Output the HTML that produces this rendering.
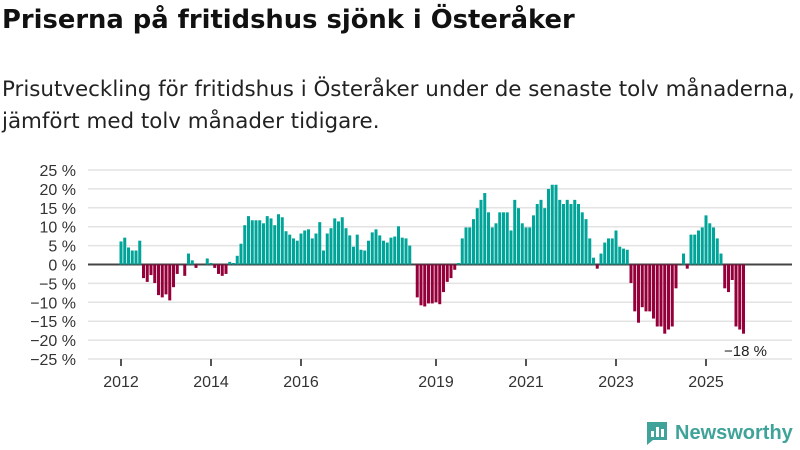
<!DOCTYPE html>
<html><head><meta charset="utf-8"><style>
body{margin:0;width:800px;height:450px;background:#fff;font-family:"Liberation Sans",sans-serif;overflow:hidden;position:relative}
h1{position:absolute;left:2px;top:5px;margin:0;font-family:"DejaVu Sans",sans-serif;font-size:25.8px;font-weight:bold;color:#111;white-space:nowrap}
.sub{position:absolute;left:2px;top:74px;margin:0;font-family:"DejaVu Sans",sans-serif;font-size:21.4px;line-height:32px;color:#222;white-space:nowrap}
svg{position:absolute;left:0;top:0}
</style></head><body>
<h1>Priserna på fritidshus sjönk i Österåker</h1>
<p class="sub">Prisutveckling för fritidshus i Österåker under de senaste tolv månaderna,<br>jämfört med tolv månader tidigare.</p>
<svg id="chart" width="800" height="450"></svg>
<script>
const values=[6.1,7.1,4.5,3.7,3.7,6.3,-3.6,-4.6,-2.8,-4.9,-8.1,-8.7,-7.9,-9.5,-6.0,-2.5,null,-3.0,2.9,1.1,-0.9,null,null,1.6,0.4,-0.9,-2.5,-3.0,-2.5,0.7,0.4,2.3,5.5,10.4,12.8,11.7,11.7,11.7,10.9,12.8,12.2,10.4,13.3,12.5,8.8,7.9,6.9,6.3,8.2,9.0,9.3,6.9,8.2,11.2,3.7,8.2,9.6,12.2,11.4,12.5,9.6,7.7,4.7,7.9,3.9,3.7,6.3,8.5,9.3,7.7,6.3,5.8,7.1,7.4,10.1,7.1,6.9,5.0,null,-8.7,-10.8,-11.1,-10.3,-10.3,-10.0,-10.5,-7.3,-4.6,-3.6,-1.4,0.4,6.9,9.8,9.8,12.0,14.9,17.1,18.9,13.8,9.8,10.9,13.8,13.8,13.8,9.0,17.1,14.9,10.9,9.8,9.8,13.0,16.0,17.1,14.9,20.0,21.1,21.1,17.1,16.0,17.1,16.0,17.1,16.0,13.8,12.0,6.9,1.8,-1.1,2.9,5.8,6.9,6.9,9.0,4.7,4.2,3.9,-4.9,-12.4,-15.4,-11.3,-12.4,-12.4,-14.3,-16.4,-16.4,-18.3,-17.2,-16.4,-6.3,null,2.9,-1.1,7.9,7.9,9.0,9.8,13.0,10.9,9.8,6.9,2.9,-6.3,-7.3,-4.1,-16.4,-17.2,-18.3];
const yTicks=[25,20,15,10,5,0,-5,-10,-15,-20,-25];
const xYears=[2012,2014,2016,2019,2021,2023,2025];
const lastLabel="−18 %";
const NS="http://www.w3.org/2000/svg";
const svg=document.getElementById('chart');
const y=v=>264.5-v*3.78;
const x=i=>121+i*3.75;
const xYear=yr=>x((yr-2012)*12);
function el(t,a){const e=document.createElementNS(NS,t);for(const k in a)e.setAttribute(k,a[k]);svg.appendChild(e);return e;}
yTicks.forEach(t=>{
 const g=el('line',{x1:88,x2:792,y1:y(t),y2:y(t),stroke:t===0?'#444':'#e3e3e3','stroke-width':t===0?2:1.5});
 
 
 const l=el('text',{x:76,y:y(t)+6,'text-anchor':'end','font-size':16,fill:'#333','font-family':'Liberation Sans, sans-serif'});
 l.textContent=(t<0?'−'+(-t):t)+' %';
 
 
});
values.forEach((v,i)=>{
 if(v===null)return;
 const r=el('rect',{x:x(i)-1.5,width:3,y:v>=0?y(v):y(0),height:Math.abs(y(v)-y(0)),fill:v>=0?'#00a498':'#95003a'});
 
 
});
xYears.forEach(yr=>{
 const t=el('line',{x1:xYear(yr),x2:xYear(yr),y1:359,y2:366,stroke:'#555','stroke-width':2});
 
 
 const l=el('text',{x:xYear(yr),y:387,'text-anchor':'middle','font-size':16,fill:'#333','font-family':'Liberation Sans, sans-serif'});
 l.textContent=yr;
 
 
});
const ll=el('text',{x:767,y:356,'text-anchor':'end','font-size':15,fill:'#222','font-family':'Liberation Sans, sans-serif'});
ll.textContent=lastLabel;


</script>
<div style="position:absolute;left:645px;top:420px;display:flex;align-items:center;gap:6px">
<svg width="24" height="26" viewBox="0 0 24 26" style="position:static"><path d="M2 2h20v18H8l-6 5z" fill="#3fa39a"/><rect x="6" y="11" width="3" height="6" fill="#fff"/><rect x="11" y="7" width="3" height="10" fill="#fff"/><rect x="16" y="9" width="3" height="8" fill="#fff"/></svg>
<span style="font-size:20px;font-weight:bold;color:#3fa39a">Newsworthy</span></div>
</body></html>
